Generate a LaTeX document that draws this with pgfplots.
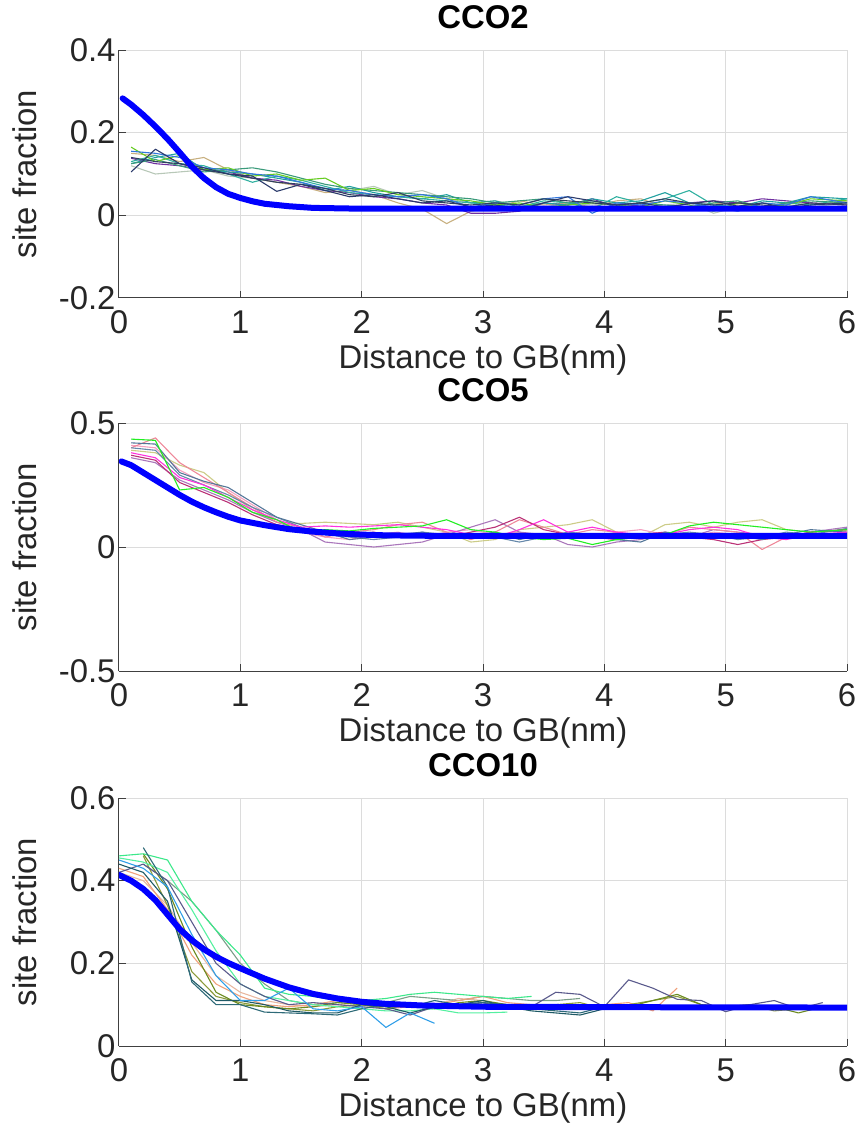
\documentclass[border=0pt]{standalone}
\usepackage{fontspec}
\setmainfont{Liberation Sans}
\usepackage{pgfplots}
\pgfplotsset{compat=1.18}
\usepackage{pgfplotstable}

\definecolor{textgray}{HTML}{262626}
\definecolor{axisgray}{HTML}{404040}
\definecolor{gridgray}{HTML}{DCDCDC}
\definecolor{fitblue}{HTML}{0000FF}
% CCO2 runs
\definecolor{ca1}{HTML}{2B3A6B}
\definecolor{ca2}{HTML}{66CC22}
\definecolor{ca3}{HTML}{20A0A0}
\definecolor{ca4}{HTML}{7030A0}
\definecolor{ca5}{HTML}{C8B080}
\definecolor{ca6}{HTML}{B8C8B8}
\definecolor{ca7}{HTML}{3A9A7A}
\definecolor{ca8}{HTML}{3377DD}
\definecolor{ca9}{HTML}{30B0A0}
\definecolor{ca10}{HTML}{304060}
% CCO5 runs
\definecolor{cb1}{HTML}{22EE22}
\definecolor{cb2}{HTML}{557799}
\definecolor{cb3}{HTML}{EE8899}
\definecolor{cb4}{HTML}{CCCC88}
\definecolor{cb5}{HTML}{FF33DD}
\definecolor{cb6}{HTML}{AA77BB}
\definecolor{cb7}{HTML}{BB3377}
\definecolor{cb8}{HTML}{6688AA}
\definecolor{cb9}{HTML}{F4A0C0}
% CCO10 runs
\definecolor{cc1}{HTML}{2E6A78}
\definecolor{cc2}{HTML}{3CE88A}
\definecolor{cc3}{HTML}{7A9E88}
\definecolor{cc4}{HTML}{2F9EE8}
\definecolor{cc5}{HTML}{F0A07A}
\definecolor{cc6}{HTML}{6B8A1F}
\definecolor{cc7}{HTML}{5A5A8C}
\definecolor{cc8}{HTML}{1F5A66}
\definecolor{cc9}{HTML}{E8B8A0}
\definecolor{cc10}{HTML}{8A9A3A}
\definecolor{cc11}{HTML}{55F0A0}

\newcommand\chartfont{\fontsize{33}{38}\selectfont}

% site fraction profiles, CCO2
\pgfplotstableread{
x   a     b     c     d     e     f     g     h     i     j
0.1 0.105 0.165 0.125 0.138 0.150 0.120 0.125 0.155 0.130 0.140
0.3 0.160 0.130 0.140 0.125 0.145 0.100 0.135 0.150 0.145 0.130
0.5 0.125 0.145 0.150 0.120 0.130 0.105 0.120 0.140 0.125 0.125
0.7 0.115 0.110 0.110 0.110 0.140 0.110 0.105 0.115 0.120 0.110
0.9 0.100 0.115 0.105 0.105 0.110 0.095 0.110 0.110 0.100 0.100
1.1 0.095 0.095 0.100 0.090 0.090 0.090 0.115 0.100 0.080 0.090
1.3 0.058 0.100 0.090 0.085 0.080 0.080 0.105 0.095 0.095 0.080
1.5 0.075 0.085 0.080 0.070 0.070 0.075 0.090 0.080 0.085 0.075
1.7 0.060 0.090 0.060 0.060 0.055 0.065 0.075 0.065 0.070 0.065
1.9 0.045 0.060 0.070 0.055 0.060 0.060 0.065 0.060 0.055 0.050
2.1 0.050 0.065 0.055 0.045 0.050 0.070 0.060 0.050 0.050 0.045
2.3 0.040 0.050 0.045 0.040 0.030 0.050 0.055 0.045 0.045 0.055
2.5 0.030 0.045 0.040 0.030 0.015 0.060 0.050 0.050 0.040 0.035
2.7 0.035 0.040 0.050 0.025 -0.020 0.040 0.045 0.040 0.035 0.030
2.9 0.020 0.035 0.030 0.005 0.010 0.030 0.040 0.020 0.030 0.025
3.1 0.025 0.025 0.035 0.005 0.020 0.035 0.030 0.030 0.025 0.030
3.3 0.015 0.030 0.020 0.010 0.035 0.025 0.035 0.025 0.020 0.025
3.5 0.030 0.020 0.030 0.030 0.025 0.020 0.040 0.040 0.035 0.040
3.7 0.045 0.025 0.025 0.025 0.030 0.030 0.030 0.045 0.030 0.035
3.9 0.035 0.030 0.040 0.040 0.020 0.025 0.035 0.005 0.015 0.030
4.1 0.025 0.025 0.030 0.020 0.035 0.030 0.025 0.030 0.045 0.025
4.3 0.030 0.020 0.035 0.025 0.040 0.020 0.030 0.025 0.030 0.030
4.5 0.020 0.035 0.055 0.015 0.020 0.025 0.025 0.035 0.040 0.040
4.7 0.028 0.025 0.030 0.030 0.015 0.030 0.020 0.030 0.060 0.030
4.9 0.035 0.010 0.025 0.035 0.030 0.005 0.030 0.020 0.025 0.025
5.1 0.022 0.030 0.020 0.030 0.025 0.020 0.035 0.010 0.020 0.030
5.3 0.030 0.020 0.035 0.040 0.020 0.030 0.020 0.030 0.015 0.025
5.5 0.018 0.025 0.030 0.035 0.030 0.025 0.030 0.025 0.030 0.020
5.7 0.025 0.040 0.045 0.030 0.025 0.020 0.035 0.045 0.025 0.030
6.0 0.030 0.035 0.040 0.025 0.035 0.030 0.030 0.030 0.040 0.025
}\tabA

\pgfplotstableread{
x    y
0.03 0.283
0.1  0.268
0.2  0.243
0.3  0.215
0.4  0.185
0.5  0.152
0.6  0.118
0.7  0.090
0.8  0.068
0.9  0.052
1.0  0.042
1.1  0.034
1.2  0.028
1.4  0.022
1.6  0.018
2.0  0.016
6.0  0.016
}\fitA

% site fraction profiles, CCO5
\pgfplotstableread{
x   a     b     c     d     e     f     g     h     i
0.1 0.435 0.420 0.400 0.390 0.380 0.360 0.370 0.400 0.410
0.3 0.430 0.415 0.440 0.380 0.360 0.340 0.350 0.390 0.400
0.5 0.230 0.300 0.340 0.330 0.280 0.270 0.260 0.290 0.310
0.7 0.240 0.265 0.280 0.300 0.250 0.230 0.220 0.250 0.260
0.9 0.200 0.240 0.220 0.220 0.200 0.190 0.180 0.210 0.230
1.1 0.140 0.180 0.160 0.150 0.150 0.140 0.130 0.160 0.170
1.3 0.110 0.120 0.100 0.100 0.110 0.100 0.090 0.120 0.110
1.5 0.060 0.090 0.080 0.095 0.080 0.070 0.070 0.080 0.060
1.7 0.070 0.060 0.040 0.100 0.085 0.020 0.060 0.050 0.040
1.9 0.065 0.030 0.060 0.095 0.080 0.010 0.050 0.040 0.030
2.1 0.075 0.040 0.070 0.090 0.085 0.000 0.060 0.030 0.050
2.3 0.080 0.050 0.090 0.100 0.090 0.010 0.040 0.040 0.060
2.5 0.085 0.060 0.100 0.080 0.080 0.020 0.050 0.060 0.040
2.7 0.110 0.040 0.060 0.060 0.070 0.050 0.040 0.050 0.060
2.9 0.070 0.045 0.030 0.020 0.050 0.080 0.060 0.050 0.070
3.1 0.060 0.060 0.060 0.030 0.040 0.110 0.080 0.040 0.050
3.3 0.040 0.030 0.110 0.070 0.070 0.060 0.120 0.020 0.060
3.5 0.030 0.050 0.080 0.080 0.110 0.050 0.070 0.040 0.040
3.7 0.035 0.040 0.050 0.090 0.060 0.010 0.050 0.060 0.050
3.9 0.010 0.050 0.070 0.110 0.080 0.000 0.040 0.050 0.040
4.1 0.030 0.030 0.060 0.060 0.060 0.020 0.030 0.030 0.060
4.3 0.040 0.020 0.040 0.040 0.050 0.030 0.050 0.040 0.070
4.5 0.050 0.060 0.050 0.090 0.050 0.050 0.060 0.050 0.050
4.7 0.085 0.050 0.080 0.100 0.070 0.040 0.040 0.060 0.040
4.9 0.100 0.040 0.070 0.080 0.080 0.070 0.030 0.050 0.060
5.1 0.090 0.045 0.060 0.100 0.070 0.060 0.010 0.030 0.050
5.3 0.080 0.030 -0.010 0.110 0.040 0.050 0.030 0.040 0.030
5.5 0.070 0.050 0.040 0.070 0.030 0.040 0.040 0.060 0.050
5.7 0.060 0.070 0.060 0.060 0.050 0.060 0.060 0.050 0.040
6.0 0.070 0.060 0.070 0.065 0.060 0.080 0.070 0.075 0.060
}\tabB

\pgfplotstableread{
x    y
0.02 0.345
0.1  0.330
0.2  0.300
0.3  0.270
0.4  0.240
0.5  0.210
0.6  0.183
0.7  0.160
0.8  0.140
0.9  0.122
1.0  0.107
1.2  0.088
1.4  0.072
1.6  0.062
1.8  0.055
2.0  0.050
2.2  0.047
2.6  0.045
6.0  0.045
}\fitB

% site fraction profiles, CCO10
\pgfplotstableread{
x   a     b     c     d     e     f     g     h     i     j     k
0.0 nan   0.460 nan   0.450 0.430 nan   0.420 0.440 0.420 nan   0.455
0.2 0.480 0.465 0.440 0.430 0.410 0.465 0.440 0.420 0.400 0.460 0.445
0.4 0.385 0.450 0.400 0.385 0.330 0.380 0.400 0.350 0.340 0.340 0.420
0.6 0.155 0.350 0.350 0.270 0.220 0.240 0.300 0.160 0.250 0.180 0.330
0.8 0.100 0.280 0.280 0.170 0.150 0.130 0.200 0.110 0.170 0.120 0.230
1.0 0.100 0.220 0.200 0.110 0.120 0.100 0.150 0.110 0.130 0.105 0.150
1.2 0.082 0.140 0.150 0.110 0.100 0.095 0.120 0.100 0.110 0.095 0.120
1.4 0.080 0.125 0.110 0.140 0.095 0.090 0.100 0.085 0.100 0.090 0.110
1.6 0.078 0.120 0.100 0.090 0.100 0.095 0.105 0.080 0.095 0.085 0.100
1.8 0.075 0.110 0.105 0.085 0.110 0.105 0.100 0.080 0.100 0.095 0.095
2.0 0.090 0.110 0.110 0.095 0.100 0.100 0.095 0.100 0.105 0.100 0.090
2.2 0.100 0.115 0.105 0.045 0.090 0.095 0.090 0.095 0.100 0.090 0.085
2.4 0.095 0.125 0.120 0.080 0.095 0.100 0.075 0.080 0.095 0.100 0.085
2.6 0.110 0.130 0.115 0.055 0.100 0.090 0.095 0.095 0.100 0.095 0.090
2.8 0.100 0.125 0.110 nan   0.110 0.105 0.100 0.100 0.115 0.100 0.080
3.0 0.105 0.120 0.120 nan   0.120 0.110 0.105 0.110 0.110 0.105 0.080
3.2 0.100 0.115 0.115 nan   0.105 0.100 0.090 0.095 nan   0.100 0.082
3.4 0.090 0.120 0.110 nan   0.100 0.095 0.095 0.085 nan   0.095 nan
3.6 0.085 nan   0.110 nan   0.095 0.100 0.130 0.080 nan   0.100 nan
3.8 0.080 nan   0.115 nan   0.090 0.095 0.125 0.075 nan   0.105 nan
4.0 0.095 nan   nan   nan   0.100 0.100 0.095 0.090 nan   0.090 nan
4.2 nan   nan   nan   nan   0.105 0.095 0.160 nan   nan   0.100 nan
4.4 nan   nan   nan   nan   0.085 0.110 0.140 nan   nan   0.110 nan
4.6 nan   nan   nan   nan   0.140 0.125 0.113 nan   nan   0.120 nan
4.8 nan   nan   nan   nan   nan   0.100 0.110 nan   nan   0.100 nan
5.0 nan   nan   nan   nan   nan   0.095 0.083 nan   nan   0.095 nan
5.2 nan   nan   nan   nan   nan   0.100 0.100 nan   nan   0.100 nan
5.4 nan   nan   nan   nan   nan   0.095 0.110 nan   nan   0.085 nan
5.6 nan   nan   nan   nan   nan   0.080 0.090 nan   nan   0.090 nan
5.8 nan   nan   nan   nan   nan   0.095 0.105 nan   nan   0.095 nan
}\tabC

\pgfplotstableread{
x    y
0.0  0.414
0.1  0.400
0.2  0.380
0.3  0.353
0.4  0.318
0.5  0.283
0.6  0.256
0.7  0.234
0.8  0.216
0.9  0.201
1.0  0.188
1.2  0.163
1.4  0.142
1.6  0.126
1.8  0.115
2.0  0.107
2.2  0.102
2.5  0.098
3.0  0.095
4.0  0.094
6.0  0.093
}\fitC

\pgfplotsset{
  panel/.style={
    scale only axis, width=728bp, height=248bp,
    xmin=0, xmax=6,
    xtick={0,1,2,3,4,5,6}, xticklabels={0,1,2,3,4,5,6},
    axis x line*=bottom, axis y line*=left,
    axis line style={draw=axisgray, line width=1bp, -},
    tick align=inside, major tick length=7bp,
    tick style={draw=axisgray, line width=1bp},
    grid=major, major grid style={draw=gridgray, line width=1bp},
    tick label style={font=\chartfont, text=textgray},
    xticklabel style={yshift=-9bp},
    xlabel={Distance to GB(nm)}, ylabel={site fraction},
    label style={font=\chartfont, text=textgray},
    xlabel style={at={(axis description cs:0.5,-0.25)}, anchor=center},
    ylabel style={at={(axis description cs:-0.1291,0.5)}, anchor=center},
    title style={font=\chartfont\bfseries, text=black,
      at={(axis description cs:0.5,1)}, anchor=base, yshift=16bp},
    unbounded coords=jump,
    every axis plot/.append style={line width=1.1bp, line join=round},
  },
  fit/.style={draw=fitblue, line width=6bp, line join=round, line cap=round},
}

\begin{document}
\begin{tikzpicture}
% CCO2
\begin{axis}[panel, at={(0bp,0bp)}, anchor=north west, title={CCO2},
  ymin=-0.2, ymax=0.4, ytick={-0.2,0,0.2,0.4}, yticklabels={-0.2,0,0.2,0.4}]
  \addplot[ca6]  table[x=x,y=f]{\tabA};
  \addplot[ca5]  table[x=x,y=e]{\tabA};
  \addplot[ca4]  table[x=x,y=d]{\tabA};
  \addplot[ca3]  table[x=x,y=c]{\tabA};
  \addplot[ca9]  table[x=x,y=i]{\tabA};
  \addplot[ca7]  table[x=x,y=g]{\tabA};
  \addplot[ca2]  table[x=x,y=b]{\tabA};
  \addplot[ca8]  table[x=x,y=h]{\tabA};
  \addplot[ca10] table[x=x,y=j]{\tabA};
  \addplot[ca1]  table[x=x,y=a]{\tabA};
  \addplot[fit]  table[x=x,y=y]{\fitA};
\end{axis}
% CCO5
\begin{axis}[panel, at={(0bp,-373bp)}, anchor=north west, title={CCO5},
  ymin=-0.5, ymax=0.5, ytick={-0.5,0,0.5}, yticklabels={-0.5,0,0.5}]
  \addplot[cb4] table[x=x,y=d]{\tabB};
  \addplot[cb9] table[x=x,y=i]{\tabB};
  \addplot[cb6] table[x=x,y=f]{\tabB};
  \addplot[cb3] table[x=x,y=c]{\tabB};
  \addplot[cb8] table[x=x,y=h]{\tabB};
  \addplot[cb7] table[x=x,y=g]{\tabB};
  \addplot[cb2] table[x=x,y=b]{\tabB};
  \addplot[cb5] table[x=x,y=e]{\tabB};
  \addplot[cb1] table[x=x,y=a]{\tabB};
  \addplot[fit] table[x=x,y=y]{\fitB};
\end{axis}
% CCO10
\begin{axis}[panel, at={(0bp,-748bp)}, anchor=north west, title={CCO10},
  ymin=0, ymax=0.6, ytick={0,0.2,0.4,0.6}, yticklabels={0,0.2,0.4,0.6}]
  \addplot[cc9]  table[x=x,y=i]{\tabC};
  \addplot[cc3]  table[x=x,y=c]{\tabC};
  \addplot[cc5]  table[x=x,y=e]{\tabC};
  \addplot[cc10] table[x=x,y=j]{\tabC};
  \addplot[cc6]  table[x=x,y=f]{\tabC};
  \addplot[cc11] table[x=x,y=k]{\tabC};
  \addplot[cc2]  table[x=x,y=b]{\tabC};
  \addplot[cc7]  table[x=x,y=g]{\tabC};
  \addplot[cc8]  table[x=x,y=h]{\tabC};
  \addplot[cc1]  table[x=x,y=a]{\tabC};
  \addplot[cc4]  table[x=x,y=d]{\tabC};
  \addplot[fit]  table[x=x,y=y]{\fitC};
\end{axis}
\pgfresetboundingbox
\useasboundingbox (-119bp,50bp) rectangle (738bp,-1076bp);
\end{tikzpicture}
\end{document}
